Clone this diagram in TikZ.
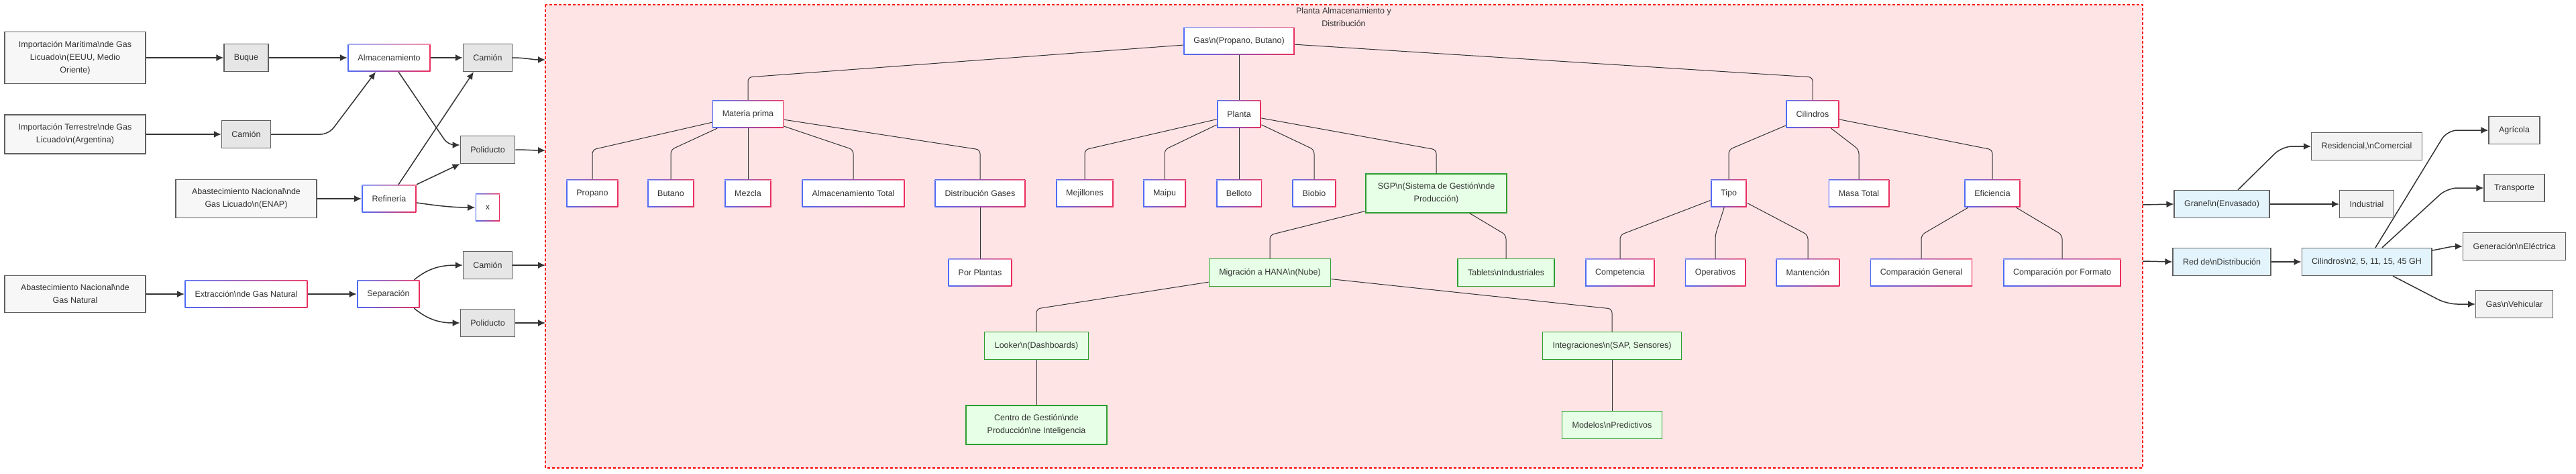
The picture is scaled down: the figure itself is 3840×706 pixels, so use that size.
\documentclass[tikz,border=0pt]{standalone}
\usepackage{fontspec}
\setmainfont{Liberation Sans}
\usetikzlibrary{arrows.meta}

\definecolor{gblue}{HTML}{4F6BF5}
\definecolor{gred}{HTML}{EC2D5C}
\definecolor{txt}{HTML}{333333}
\definecolor{linea}{HTML}{333333}
\definecolor{srcfill}{HTML}{F7F7F7}
\definecolor{srcdraw}{HTML}{5F5F5F}
\definecolor{medfill}{HTML}{E6E6E6}
\definecolor{celfill}{HTML}{E3F4FC}
\definecolor{usofill}{HTML}{F2F2F2}
\definecolor{verfill}{HTML}{E6FFE6}
\definecolor{verdraw}{HTML}{2E9E2E}
\definecolor{clfill}{HTML}{FFE4E6}

\newcommand{\bsn}{\textbackslash n}

\begin{document}
\begin{tikzpicture}[x=1pt, y=-1pt, >={Latex[length=11pt,width=10pt]},
  font=\fontsize{12.5}{19}\selectfont, text=txt,
  box/.style={draw, line width=1.3pt, minimum height=41pt, inner xsep=15pt, inner ysep=13.5pt, align=center},
  fuente/.style={box, fill=srcfill, draw=srcdraw, minimum width=210pt},
  medio/.style={box, fill=medfill, draw=srcdraw},
  celeste/.style={box, fill=celfill, draw=srcdraw},
  uso/.style={box, fill=usofill, draw=srcdraw},
  verde/.style={box, fill=verfill, draw=verdraw},
  grad/.style={box, draw=none, fill=white, path picture={
    \shade[left color=gblue, right color=gred] (path picture bounding box.south west) rectangle (path picture bounding box.north east);
    \fill[white, opacity=0.45] (path picture bounding box.north west) rectangle ([yshift=-1.6pt]path picture bounding box.north east);
    \fill[white] ([shift={(1.6pt,1.6pt)}]path picture bounding box.south west) rectangle ([shift={(-1.6pt,-1.6pt)}]path picture bounding box.north east);}},
  arr/.style={->, draw=linea, line width=1.5pt},
  tree/.style={draw=linea, line width=1pt, rounded corners=6pt}]

\useasboundingbox (0,0) rectangle (3840,706);

% cluster
\draw[fill=clfill, draw=red, line width=2pt, dash pattern=on 4pt off 3pt] (813,7) rectangle (3194,697);
\node[align=center] (titulo) at (2003,26) {Planta Almacenamiento y\\Distribución};

% fuentes
\node[fuente] (mar) at (112,86) {Importación Marítima\bsn{}de Gas\\Licuado\bsn{}(EEUU, Medio\\Oriente)};
\node[fuente] (ter) at (112,200) {Importación Terrestre\bsn{}de Gas\\Licuado\bsn{}(Argentina)};
\node[fuente] (abgl) at (367,296) {Abastecimiento Nacional\bsn{}de\\Gas Licuado\bsn{}(ENAP)};
\node[fuente] (abgn) at (112,438) {Abastecimiento Nacional\bsn{}de\\Gas Natural};

\node[medio] (buque) at (367,86) {Buque};
\node[medio] (cam2) at (367,200) {Camión};
\node[grad] (alm) at (580,86) {Almacenamiento};
\node[grad] (ref) at (580,296) {Refinería};
\node[grad] (ext) at (367,438) {Extracción\bsn{}de Gas Natural};
\node[grad] (sep) at (579,438) {Separación};
\node[medio] (cam1) at (727,86) {Camión};
\node[medio] (pol1) at (727,223) {Poliducto};
\node[grad] (xx) at (727,309) {x};
\node[medio] (cam3) at (727,395) {Camión};
\node[medio] (pol3) at (727,481) {Poliducto};

\coordinate (in1) at (813,89);
\coordinate (in2) at (813,224);
\coordinate (in3) at (813,395);
\coordinate (in4) at (813,481);

\draw[arr] (mar) -- (buque);
\draw[arr] (buque) -- (alm);
\draw[arr] (alm) -- (cam1);
\draw[arr] (ter) -- (cam2);
\draw[arr, rounded corners=12pt] (cam2.east) -- (490,200) -- ([xshift=-20pt]alm.south);
\draw[arr, rounded corners=10pt] ([xshift=14pt]alm.south) -- (668,216) -- ([yshift=7pt]pol1.west);
\draw[arr] ([xshift=14pt]ref.north) -- ([xshift=-21pt]cam1.south);
\draw[arr] (ref.north east) -- (pol1.south west);
\draw[arr] ([yshift=-6pt]ref.east) to[out=-8,in=180] (xx.west);
\draw[arr] (abgl) -- (ref);
\draw[arr] (abgn) -- (ext);
\draw[arr] (ext) -- (sep);
\draw[arr] ([xshift=-9pt]sep.north east) to[out=40,in=180] (cam3.west);
\draw[arr] ([xshift=-9pt]sep.south east) to[out=-40,in=180] (pol3.west);

\draw[arr] (cam1.east) to[out=0,in=180] (in1);
\draw[arr] (pol1.east) to[out=0,in=180] (in2);
\draw[arr] (cam3.east) to[out=0,in=180] (in3);
\draw[arr] (pol3.east) to[out=0,in=180] (in4);

% arbol de la planta
\node[grad] (gas) at (1847,61) {Gas\bsn{}(Propano, Butano)};

\node[grad] (mat) at (1115,170) {Materia prima};
\node[grad] (pla) at (1847,170) {Planta};
\node[grad] (cil) at (2702,170) {Cilindros};

\node[grad] (propano) at (883,288) {Propano};
\node[grad] (butano) at (1000,288) {Butano};
\node[grad] (mezcla) at (1115,288) {Mezcla};
\node[grad] (almt) at (1272,288) {Almacenamiento Total};
\node[grad] (distg) at (1461,288) {Distribución Gases};
\node[grad] (mej) at (1617,288) {Mejillones};
\node[grad] (maipu) at (1736,288) {Maipu};
\node[grad] (bel) at (1847,288) {Belloto};
\node[grad] (bio) at (1959,288) {Biobio};
\node[verde, minimum width=210pt] (sgp) at (2141,288) {SGP\bsn{}(Sistema de Gestión\bsn{}de\\Producción)};
\node[grad] (tipo) at (2577,288) {Tipo};
\node[grad] (masa) at (2771,288) {Masa Total};
\node[grad] (efi) at (2970,288) {Eficiencia};

\node[grad] (porpl) at (1461,406) {Por Plantas};
\node[verde] (mig) at (1893,406) {Migración a HANA\bsn{}(Nube)};
\node[verde] (tab) at (2245,406) {Tablets\bsn{}Industriales};
\node[grad] (comp) at (2415,406) {Competencia};
\node[grad] (oper) at (2557,406) {Operativos};
\node[grad] (mant) at (2695,406) {Mantención};
\node[grad] (cgen) at (2864,406) {Comparación General};
\node[grad] (cfor) at (3074,406) {Comparación por Formato};

\node[verde] (look) at (1545,515) {Looker\bsn{}(Dashboards)};
\node[verde] (integ) at (2403,515) {Integraciones\bsn{}(SAP, Sensores)};

\node[verde, minimum width=210pt] (centro) at (1545,633) {Centro de Gestión\bsn{}de\\Producción\bsn{}e Inteligencia};
\node[verde] (model) at (2403,633) {Modelos\bsn{}Predictivos};

\coordinate (lv2) at (0,115);
\coordinate (lv3) at (0,223);
\coordinate (lv4) at (0,350);
\coordinate (lv5) at (0,460);

\foreach \c in {mat, pla, cil}
  \draw[tree] (gas) -- (\c.north |- lv2) -- (\c.north);
\foreach \c in {propano, butano, mezcla, almt, distg}
  \draw[tree] (mat) -- (\c.north |- lv3) -- (\c.north);
\foreach \c in {mej, maipu, bel, bio, sgp}
  \draw[tree] (pla) -- (\c.north |- lv3) -- (\c.north);
\foreach \c in {tipo, masa, efi}
  \draw[tree] (cil) -- (\c.north |- lv3) -- (\c.north);
\draw[tree] (distg) -- (porpl);
\foreach \p/\c in {sgp/mig, sgp/tab, tipo/comp, tipo/oper, tipo/mant, efi/cgen, efi/cfor}
  \draw[tree] (\p) -- (\c.north |- lv4) -- (\c.north);
\foreach \c in {look, integ}
  \draw[tree] (mig) -- (\c.north |- lv5) -- (\c.north);
\draw[tree] (look) -- (centro);
\draw[tree] (integ) -- (model);

% salida
\coordinate (out1) at (3194,305);
\coordinate (out2) at (3194,389);

\node[celeste] (granel) at (3312,304) {Granel\bsn{}(Envasado)};
\node[celeste] (red) at (3312,390) {Red de\bsn{}Distribución};
\node[uso] (resid) at (3528,218) {Residencial,\bsn{}Comercial};
\node[uso] (ind) at (3528,304) {Industrial};
\node[celeste] (cilr) at (3528,390) {Cilindros\bsn{}2, 5, 11, 15, 45 GH};
\node[uso] (agri) at (3748,194) {Agrícola};
\node[uso] (transp) at (3748,280) {Transporte};
\node[uso] (gen) at (3748,367) {Generación\bsn{}Eléctrica};
\node[uso] (gasv) at (3748,453) {Gas\bsn{}Vehicular};

\draw[arr] (out1) -- (granel.west);
\draw[arr] (out2) -- (red.west);
\draw[arr, rounded corners=15pt] ([xshift=24pt]granel.north) -- (3402,218) -- (resid.west);
\draw[arr] (granel) -- (ind);
\draw[arr] (red) -- (cilr);
\draw[arr, rounded corners=15pt] ([xshift=13pt]cilr.north) -- (3648,194) -- (agri.west);
\draw[arr, rounded corners=15pt] ([xshift=23pt]cilr.north) -- (3648,280) -- (transp.west);
\draw[arr] ([yshift=17pt]cilr.east) to[out=10,in=180] (gen.west);
\draw[arr, rounded corners=15pt] ([xshift=39pt]cilr.south) -- (3648,453) -- (gasv.west);

\end{tikzpicture}
\end{document}
